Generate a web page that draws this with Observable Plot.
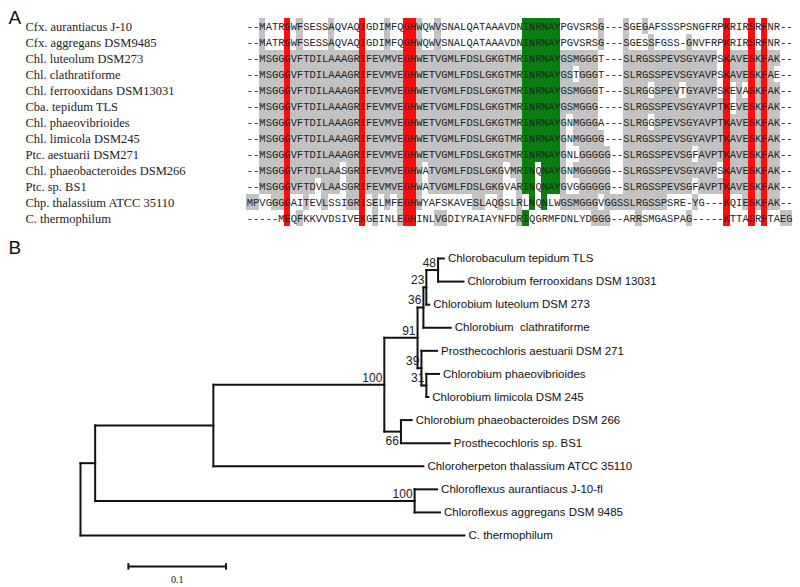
<!DOCTYPE html>
<html><head><meta charset="utf-8">
<script src="https://cdn.jsdelivr.net/npm/d3@7"></script>
<script src="https://cdn.jsdelivr.net/npm/@observablehq/plot@0.6"></script>
<style>
html,body{margin:0;padding:0;background:#fff}
#chart{width:800px;height:587px;overflow:hidden}
#chart svg{display:block}
svg text{white-space:pre}
</style></head><body><div id="chart"></div>
<script>
// ---------- Panel A: alignment ----------
const taxaA = [
  "Cfx. aurantiacus J-10",
  "Cfx. aggregans DSM9485",
  "Chl. luteolum DSM273",
  "Chl. clathratiforme",
  "Chl. ferrooxidans DSM13031",
  "Cba. tepidum TLS",
  "Chl. phaeovibrioides",
  "Chl. limicola DSM245",
  "Ptc. aestuarii DSM271",
  "Chl. phaeobacteroides DSM266",
  "Ptc. sp. BS1",
  "Chp. thalassium ATCC 35110",
  "C. thermophilum"
];
const seqs = [
  "--MATRGWFSESSAQVAQIGDIMFQGHWQWVSNALQATAAAVDNINRNAYPGVSRSG---SGEGAFSSSPSNGFRPKRIRSRFNR--",
  "--MATRGWFSESSAQVAQIGDIMFQGHWQWVSNALQATAAAVDNINRNAYPGVSRSG---SGESSFGSS-GNVFRPKRIRSRFNR--",
  "--MSGGGVFTDILAAAGRIFEVMVEGHWETVGMLFDSLGKGTMRINRNAYGSMGGGT---SLRGSSPEVSGYAVPSKAVESKFAK--",
  "--MSGGGVFTDILAAAGRIFEVMVEGHWETVGMLFDSLGKGTMRINRNAYGSTGGGT---SLRGSSPEVSGYAVPSKAVESKFAE--",
  "--MSGGGVFTDILAAAGRIFEVMVEGHWETVGMLFDSLGKGTMRINRNAYGSMGGGT---SLRGGSPEVTGYAVPSKEVASKFAK--",
  "--MSGGGVFTDILAAAGRIFEVMVEGHWETVGMLFDSLGKGTMRINRNAYGSMGGG----SLRGSSPEVSGYAVPTKEVESKFAK--",
  "--MSGGGVFTDILAAAGRIFEVMVEGHWETVGMLFDSLGKGTMRINRNAYGNMGGGA---SLRGGSPEVSGYAVPTKAVESKFAK--",
  "--MSGGGVFTDILAAAGRIFEVMVEGHWETVGMLFDSLGKGTMRINRNAYGNMGGGG---SLRGSSPEVSGYAVPTKAVESKFAK--",
  "--MSGGGVFTDILAAAGRIFEVMVEGHWETVGMLFDSLGKGTMRINRNAYGNLGGGGG--SLRGSSPEVSGFAVPTKAVESKFAK--",
  "--MSGGGVFTDILAASGRIFEVMVEGHWATVGMLFDSLGKGVMRINQNAYGNMGGGGG--SLRGSSPEVSGYAVPSKAVESKFAK--",
  "--MSGGGVFTDVLAASGRIFEVMVEGHWATVGMLFDSLGKGVARINQNAYGVGGGGGG--SLRGSSPEVSGFAVPTKAVESKFAK--",
  "MPVGGGGAITEVLSSIGRISELMFEGHWYAFSKAVESLAQGSLRLNQNLWGSMGGGVGGSSLRGSSPSRE-YG---KQIESKFAK--",
  "-----MEQFKKVVDSIVEKGEINLEGHINLVGDIYRAIAYNFDRIQGRMFDNLYDGGG--ARRSMGASPAG-----KTTASRFTAEG"
];
const redCols = [7, 19, 26, 27, 77, 81, 83];
const greenCols = [45, 46, 47, 48, 49, 50];

// ---------- Panel B: tree ----------
const treeNames = [
  "root", "n2", "nCC", "nChl", "n91", "n36", "n23", "n48",
  "Chlorobaculum tepidum TLS", "Chlorobium ferrooxidans DSM 13031",
  "Chlorobium luteolum DSM 273", "Chlorobium  clathratiforme",
  "n39", "Prosthecochloris aestuarii DSM 271", "n31",
  "Chlorobium phaeovibrioides", "Chlorobium limicola DSM 245",
  "n66", "Chlorobium phaeobacteroides DSM 266", "Prosthecochloris sp. BS1",
  "Chloroherpeton thalassium ATCC 35110",
  "nFlex", "Chloroflexus aurantiacus J-10-fl", "Chloroflexus aggregans DSM 9485",
  "C. thermophilum"
];
const treeParents = [
  null, "root", "n2", "nCC", "nChl", "n91", "n36", "n23",
  "n48", "n48",
  "n23", "n36",
  "n91", "n39", "n39",
  "n31", "n31",
  "nChl", "n66", "n66",
  "nCC",
  "n2", "nFlex", "nFlex",
  "root"
];
const branchLengths = [
  0, 0.015, 0.121, 0.175, 0.034, 0.006, 0.003, 0.012,
  0.006, 0.026,
  0.003, 0.028,
  0.004, 0.016, 0.005,
  0.013, 0.002,
  0.017, 0.011, 0.050,
  0.215,
  0.327, 0.023, 0.026,
  0.393
];
const bootstrap = [
  null, null, null, 100, 91, 36, 23, 48,
  null, null, null, null,
  39, null, 31, null, null,
  66, null, null, null,
  100, null, null, null
];
const supportBelow = ["n66"];
const scaleBarLength = 0.1;
const scaleBarLabel = "0.1";

// ---------- build panel A ----------
const nCol = seqs[0].length;
const consensus = d3.range(nCol).map(i => {
  const counts = d3.rollup(seqs.map(s => s[i]).filter(c => c !== "-"), v => v.length, c => c);
  let best = null, bestN = 0;
  for (const [c, n] of counts) if (n > bestN) { best = c; bestN = n; }
  return best;
});
const cells = seqs.flatMap((s, r) => Array.from(s, (ch, i) => {
  const col = i + 1;
  let shade = null;
  if (redCols.includes(col)) shade = "red";
  else if (ch !== "-" && ch === consensus[i]) shade = greenCols.includes(col) ? "green" : "gray";
  return {taxon: taxaA[r], col, ch, shade};
}));
const rowsA = seqs.map((seq, r) => ({taxon: taxaA[r], seq}));
const bar = (shade, fill) => Plot.barX(cells.filter(d => d.shade === shade), {
  x1: "col", x2: d => d.col + 1, y: "taxon", fill, shapeRendering: "crispEdges"
});
const serif = "'Liberation Serif', 'DejaVu Serif', serif";
const mono = "'Liberation Mono', 'DejaVu Sans Mono', monospace";
const sans = "'Liberation Sans', Arial, sans-serif";

const A_W = 800, A_ML = 246, A_MR = 7.6;
const colWidth = (A_W - A_ML - A_MR) / nCol;

const plotA = Plot.plot({
  width: A_W, height: 232,
  marginLeft: A_ML, marginRight: A_MR, marginTop: 15, marginBottom: 3,
  x: {type: "linear", domain: [1, nCol + 1], axis: null},
  y: {type: "band", domain: taxaA, axis: null, padding: 0},
  style: {background: "white", overflow: "visible"},
  marks: [
    bar("gray", "#c2c2c2"),
    bar("green", "#0b7d12"),
    bar("red", "#ff0d0d"),
    Plot.text(rowsA, {x: () => (nCol + 2) / 2, y: "taxon", text: "seq", fontFamily: mono, fontSize: colWidth / 0.6, fill: "#222", ariaLabel: "residues"}),
    Plot.text(taxaA, {y: d => d, text: d => d, frameAnchor: "left", dx: -221, textAnchor: "start", fontFamily: serif, fontSize: 12.5, fill: "#222", ariaLabel: "taxa"}),
    Plot.text(["A"], {text: d => d, frameAnchor: "top-left", dx: -238, dy: -5, fontFamily: sans, fontSize: 19, fill: "#111"})
  ]
});

// ---------- build panel B ----------
const nodes = treeNames.map((name, i) => ({name, parent: treeParents[i], len: branchLengths[i], support: bootstrap[i], children: []}));
const byName = new Map(nodes.map(n => [n.name, n]));
nodes.forEach(n => { if (n.parent) byName.get(n.parent).children.push(n); });
const root = nodes.find(n => !n.parent);
let leafIdx = 0;
(function lay(n, x) {
  n.x = x;
  if (!n.children.length) n.y = leafIdx++;
  else {
    n.children.forEach(c => lay(c, x + c.len));
    n.y = (n.children[0].y + n.children[n.children.length - 1].y) / 2;
  }
})(root, 0);
const nLeaves = leafIdx;
const leaves = nodes.filter(n => !n.children.length);
const internals = nodes.filter(n => n.children.length);
const supported = internals.filter(n => n.support != null);
const scaleY = nLeaves - 1 + 1.34;
const scaleX0 = 0.049;

const plotB = Plot.plot({
  width: 800, height: 355,
  marginLeft: 80, marginRight: 0, marginTop: 26, marginBottom: 52,
  x: {domain: [0, 0.737], axis: null},
  y: {domain: [0, nLeaves - 1], axis: null, reverse: true},
  style: {background: "white", overflow: "visible"},
  marks: [
    Plot.link(nodes.filter(n => n.parent), {x1: n => byName.get(n.parent).x, x2: "x", y1: "y", y2: "y", stroke: "#111", strokeWidth: 2, strokeLinecap: "square"}),
    Plot.link(internals, {x1: "x", x2: "x", y1: n => n.children[0].y, y2: n => n.children[n.children.length - 1].y, stroke: "#111", strokeWidth: 2, strokeLinecap: "square"}),
    Plot.text(leaves, {x: "x", y: "y", text: "name", textAnchor: "start", dx: 4, fontFamily: sans, fontSize: 11.5, fill: "#111"}),
    Plot.text(supported.filter(n => !supportBelow.includes(n.name)), {x: "x", y: "y", text: "support", textAnchor: "end", dx: -2, dy: -7, fontFamily: sans, fontSize: 12, fill: "#222"}),
    Plot.text(supported.filter(n => supportBelow.includes(n.name)), {x: "x", y: "y", text: "support", textAnchor: "end", dx: -2, dy: 10, fontFamily: sans, fontSize: 12, fill: "#222"}),
    Plot.link([scaleBarLength], {x1: () => scaleX0, x2: d => scaleX0 + d, y1: () => scaleY, y2: () => scaleY, stroke: "#111", strokeWidth: 2}),
    Plot.link([scaleX0, scaleX0 + scaleBarLength], {x1: d => d, x2: d => d, y1: () => scaleY - 0.14, y2: () => scaleY + 0.14, stroke: "#111", strokeWidth: 2}),
    Plot.text([scaleBarLabel], {x: () => scaleX0 + scaleBarLength / 2, y: () => scaleY, text: d => d, dy: 13, fontFamily: serif, fontSize: 10, fill: "#111"}),
    Plot.text(["B"], {text: d => d, frameAnchor: "top-left", dx: -72, dy: -18, fontFamily: sans, fontSize: 19, fill: "#111"})
  ]
});

const chart = document.getElementById("chart");
chart.append(plotA, plotB);

// make each taller sequence glyph fill exactly one alignment column
try {
  d3.select(plotA).selectAll('g[aria-label="residues"] text').each(function () {
    this.setAttribute("font-size", "13");
    this.style.fontSize = "13px";
    this.setAttribute("textLength", (this.textContent.length * colWidth).toFixed(2));
    this.setAttribute("lengthAdjust", "spacingAndGlyphs");
  });
  d3.select(plotA).selectAll('g[aria-label="taxa"] text').each(function () {
    this.setAttribute("textLength", this.textContent.length * 6);
    this.setAttribute("lengthAdjust", "spacingAndGlyphs");
  });
} catch (e) { console.error(e); }
</script>
</body></html>
